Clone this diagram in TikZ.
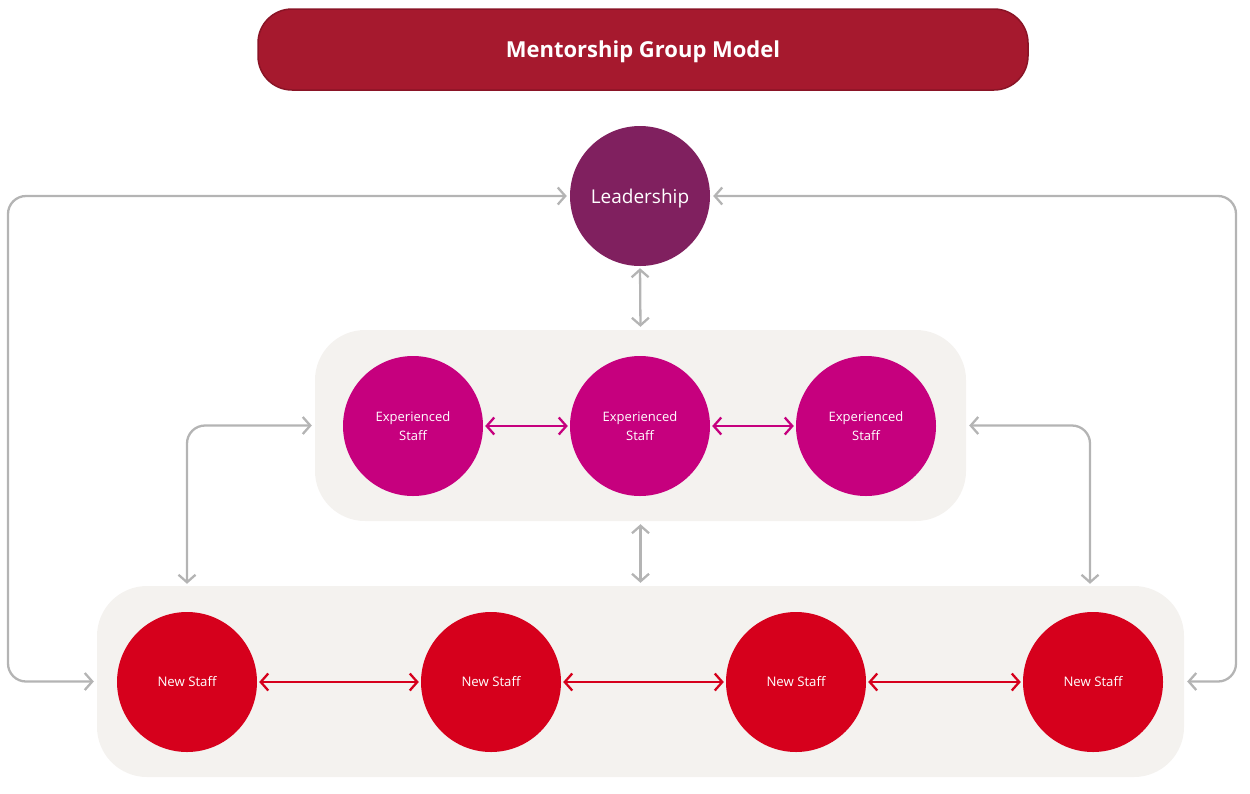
\documentclass[tikz,border=0pt]{standalone}
\usepackage{fontspec}
\setmainfont{Open Sans}
\usetikzlibrary{arrows.meta,calc}
\definecolor{titlered}{HTML}{A6192E}
\definecolor{titleedge}{HTML}{8A1426}
\definecolor{leadc}{HTML}{80205F}
\definecolor{expc}{HTML}{C6007E}
\definecolor{newc}{HTML}{D6001C}
\definecolor{panel}{HTML}{F4F2EF}
\definecolor{grayline}{HTML}{B4B4B4}
\tikzset{
  titlebox/.style={draw=titleedge, line width=1.5pt, fill=titlered, rounded corners=34pt, minimum width=770pt, minimum height=81pt, text=white, text depth=0pt, font=\bfseries\fontsize{22}{26}\selectfont},
  panelbox/.style={fill=panel, rounded corners=50pt, inner sep=0pt},
  bubble/.style={circle, minimum size=140pt, inner sep=0pt, text=white, align=center},
  leadbub/.style={bubble, fill=leadc, text depth=0pt, font=\fontsize{19}{22}\selectfont},
  expbub/.style={bubble, fill=expc, font=\fontsize{13}{19}\selectfont},
  newbub/.style={bubble, fill=newc, font=\fontsize{13.2}{15}\selectfont},
  tip/.style={arrows={Straight Barb[length=7.5pt,width=17pt]-Straight Barb[length=7.5pt,width=17pt]}},
  garrow/.style={tip, draw=grayline, line width=2.3pt, rounded corners=18pt},
  earrow/.style={tip, draw=expc, line width=2.3pt, shorten <=2pt, shorten >=2pt},
  narrow/.style={tip, draw=newc, line width=2.3pt, shorten <=2pt, shorten >=2pt},
}
\begin{document}
\begin{tikzpicture}[x=1pt,y=-1pt]
\useasboundingbox (0,0) rectangle (1250,793);
\node[titlebox] (title) at (643,49.5) {Mentorship Group Model};
\node[panelbox, minimum width=651pt, minimum height=191pt] (expbox) at (640.5,425.5) {};
\node[panelbox, minimum width=1087pt, minimum height=191pt] (newbox) at (640.5,681.5) {};
\node[leadbub] (lead) at (640,196) {Leadership};
\node[expbub] (e1) at (413,426) {Experienced\\Staff};
\node[expbub] (e2) at (640,426) {Experienced\\Staff};
\node[expbub] (e3) at (866,426) {Experienced\\Staff};
\node[newbub] (n1) at (187,682) {New Staff};
\node[newbub] (n2) at (491,682) {New Staff};
\node[newbub] (n3) at (796,682) {New Staff};
\node[newbub] (n4) at (1093,682) {New Staff};
\coordinate (lc) at (8,682);
\coordinate (rc) at (1236,682);
\coordinate (ld) at (187,682);
\coordinate (rd) at (1090,682);
% gray connectors
\draw[garrow, shorten <=2pt, shorten >=3pt] (lead.south) -- (expbox.north);
\draw[garrow, shorten <=3pt, shorten >=3pt] (expbox.south) -- (newbox.north);
\draw[garrow, shorten <=3pt, shorten >=2pt] (expbox.west) -| (ld |- newbox.north);
\draw[garrow, shorten <=3pt, shorten >=2pt] (expbox.east) -| (rd |- newbox.north);
\draw[garrow, shorten <=3pt, shorten >=3pt] (lead.west) -| (lc |- newbox.west) -- (newbox.west);
\draw[garrow, shorten <=3pt, shorten >=3pt] (lead.east) -| (rc |- newbox.east) -- (newbox.east);
% experienced links
\draw[earrow] (e1) -- (e2);
\draw[earrow] (e2) -- (e3);
% new staff links
\draw[narrow] (n1) -- (n2);
\draw[narrow] (n2) -- (n3);
\draw[narrow] (n3) -- (n4);
\end{tikzpicture}
\end{document}
